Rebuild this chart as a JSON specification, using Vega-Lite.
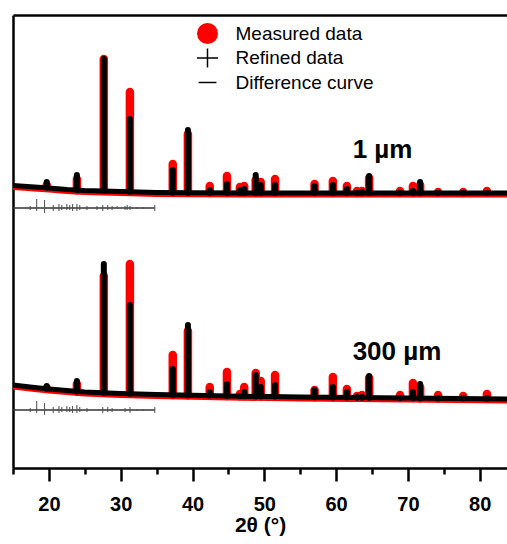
{
  "$schema": "https://vega.github.io/schema/vega-lite/v6.json",
  "width": 494,
  "height": 453,
  "autosize": {"type": "none"},
  "padding": {"left": 13, "top": 15, "right": 0, "bottom": 76},
  "background": "white",
  "config": {"view": {"stroke": null}, "font": "Liberation Sans"},
  "datasets": {
    "baseline": [
      {"pattern": "1 µm", "x": 15, "y": 282.5},
      {"pattern": "1 µm", "x": 17, "y": 281.5},
      {"pattern": "1 µm", "x": 20, "y": 280},
      {"pattern": "1 µm", "x": 22.5, "y": 278.5},
      {"pattern": "1 µm", "x": 25, "y": 277.5},
      {"pattern": "1 µm", "x": 30, "y": 276.5},
      {"pattern": "1 µm", "x": 35, "y": 275.5},
      {"pattern": "1 µm", "x": 40, "y": 275.2},
      {"pattern": "1 µm", "x": 50, "y": 275.1},
      {"pattern": "1 µm", "x": 83.8, "y": 275},
      {"pattern": "300 µm", "x": 15, "y": 83},
      {"pattern": "300 µm", "x": 18, "y": 80.5},
      {"pattern": "300 µm", "x": 20, "y": 79},
      {"pattern": "300 µm", "x": 22.5, "y": 77.5},
      {"pattern": "300 µm", "x": 25, "y": 76},
      {"pattern": "300 µm", "x": 30, "y": 74.5},
      {"pattern": "300 µm", "x": 35, "y": 73.5},
      {"pattern": "300 µm", "x": 45, "y": 72},
      {"pattern": "300 µm", "x": 55, "y": 71},
      {"pattern": "300 µm", "x": 70, "y": 70},
      {"pattern": "300 µm", "x": 83.8, "y": 69}
    ],
    "peaks": [
      {"pattern": "1 µm", "x": 19.7, "base": 280.2, "measured": 283, "refined": 286},
      {"pattern": "1 µm", "x": 23.9, "base": 277.8, "measured": 289, "refined": 293},
      {"pattern": "1 µm", "x": 27.65, "base": 277.2, "measured": 409, "refined": 409},
      {"pattern": "1 µm", "x": 31.28, "base": 276.3, "measured": 376, "refined": 349},
      {"pattern": "1 µm", "x": 37.25, "base": 275.3, "measured": 304, "refined": 298},
      {"pattern": "1 µm", "x": 39.36, "base": 275.2, "measured": 334, "refined": 338},
      {"pattern": "1 µm", "x": 42.4, "base": 275.1, "measured": 282, "refined": 278},
      {"pattern": "1 µm", "x": 44.8, "base": 275.1, "measured": 292, "refined": 284},
      {"pattern": "1 µm", "x": 46.6, "base": 275.1, "measured": 281, "refined": 278},
      {"pattern": "1 µm", "x": 47.2, "base": 275.1, "measured": 282, "refined": 279},
      {"pattern": "1 µm", "x": 48.8, "base": 275.1, "measured": 288, "refined": 293},
      {"pattern": "1 µm", "x": 49.5, "base": 275.1, "measured": 286, "refined": 283},
      {"pattern": "1 µm", "x": 51.5, "base": 275.1, "measured": 289, "refined": 283},
      {"pattern": "1 µm", "x": 57.0, "base": 275, "measured": 284, "refined": 282},
      {"pattern": "1 µm", "x": 59.55, "base": 275, "measured": 287, "refined": 283},
      {"pattern": "1 µm", "x": 61.5, "base": 275, "measured": 282, "refined": 279},
      {"pattern": "1 µm", "x": 62.9, "base": 275, "measured": 277, "refined": 275},
      {"pattern": "1 µm", "x": 63.6, "base": 275, "measured": 277, "refined": 276},
      {"pattern": "1 µm", "x": 64.6, "base": 275, "measured": 290, "refined": 292},
      {"pattern": "1 µm", "x": 68.9, "base": 275, "measured": 277, "refined": 275},
      {"pattern": "1 µm", "x": 70.7, "base": 275, "measured": 282, "refined": 277},
      {"pattern": "1 µm", "x": 71.7, "base": 275, "measured": 283, "refined": 286},
      {"pattern": "1 µm", "x": 74.2, "base": 275, "measured": 276, "refined": 275},
      {"pattern": "1 µm", "x": 77.7, "base": 275, "measured": 276, "refined": 275},
      {"pattern": "1 µm", "x": 81.0, "base": 275, "measured": 277, "refined": 275},
      {"pattern": "300 µm", "x": 19.7, "base": 79.2, "measured": 80, "refined": 82},
      {"pattern": "300 µm", "x": 23.9, "base": 76.5, "measured": 84, "refined": 87},
      {"pattern": "300 µm", "x": 27.65, "base": 75.3, "measured": 192, "refined": 204},
      {"pattern": "300 µm", "x": 31.28, "base": 74.3, "measured": 204, "refined": 163},
      {"pattern": "300 µm", "x": 37.25, "base": 73.1, "measured": 113, "refined": 99},
      {"pattern": "300 µm", "x": 39.36, "base": 72.7, "measured": 137, "refined": 143},
      {"pattern": "300 µm", "x": 42.4, "base": 72.4, "measured": 81, "refined": 76},
      {"pattern": "300 µm", "x": 44.8, "base": 72, "measured": 96, "refined": 84},
      {"pattern": "300 µm", "x": 46.6, "base": 71.8, "measured": 74, "refined": 72},
      {"pattern": "300 µm", "x": 47.2, "base": 71.8, "measured": 81, "refined": 76},
      {"pattern": "300 µm", "x": 48.8, "base": 71.6, "measured": 95, "refined": 93},
      {"pattern": "300 µm", "x": 49.5, "base": 71.6, "measured": 87, "refined": 81},
      {"pattern": "300 µm", "x": 51.5, "base": 71.4, "measured": 93, "refined": 83},
      {"pattern": "300 µm", "x": 57.0, "base": 70.8, "measured": 78, "refined": 78},
      {"pattern": "300 µm", "x": 59.55, "base": 70.6, "measured": 91, "refined": 81},
      {"pattern": "300 µm", "x": 61.5, "base": 70.4, "measured": 79, "refined": 76},
      {"pattern": "300 µm", "x": 62.9, "base": 70.3, "measured": 72, "refined": 71},
      {"pattern": "300 µm", "x": 63.6, "base": 70.3, "measured": 73, "refined": 71},
      {"pattern": "300 µm", "x": 64.6, "base": 70.2, "measured": 90, "refined": 92},
      {"pattern": "300 µm", "x": 68.9, "base": 70, "measured": 73, "refined": 70},
      {"pattern": "300 µm", "x": 70.7, "base": 69.9, "measured": 85, "refined": 76},
      {"pattern": "300 µm", "x": 71.7, "base": 69.8, "measured": 81, "refined": 84},
      {"pattern": "300 µm", "x": 74.2, "base": 69.6, "measured": 73, "refined": 70},
      {"pattern": "300 µm", "x": 77.7, "base": 69.4, "measured": 72, "refined": 70},
      {"pattern": "300 µm", "x": 81.0, "base": 69.2, "measured": 74, "refined": 70}
    ],
    "diffline": [
      {"pattern": "1 µm", "x": 15, "y": 260},
      {"pattern": "1 µm", "x": 34.75, "y": 260},
      {"pattern": "300 µm", "x": 15, "y": 58},
      {"pattern": "300 µm", "x": 34.75, "y": 58}
    ],
    "diffspikes": [
      {"pattern": "1 µm", "x": 17.4, "lo": 258, "hi": 262},
      {"pattern": "1 µm", "x": 18.3, "lo": 257, "hi": 269},
      {"pattern": "1 µm", "x": 19.4, "lo": 255, "hi": 268},
      {"pattern": "1 µm", "x": 20.6, "lo": 257, "hi": 263},
      {"pattern": "1 µm", "x": 21.4, "lo": 257, "hi": 264},
      {"pattern": "1 µm", "x": 21.8, "lo": 258, "hi": 263},
      {"pattern": "1 µm", "x": 22.5, "lo": 258, "hi": 264},
      {"pattern": "1 µm", "x": 22.9, "lo": 258, "hi": 263},
      {"pattern": "1 µm", "x": 23.3, "lo": 257, "hi": 264},
      {"pattern": "1 µm", "x": 23.9, "lo": 257, "hi": 264},
      {"pattern": "1 µm", "x": 24.3, "lo": 258, "hi": 263},
      {"pattern": "1 µm", "x": 25.3, "lo": 258, "hi": 262},
      {"pattern": "1 µm", "x": 26.7, "lo": 258, "hi": 262},
      {"pattern": "1 µm", "x": 27.5, "lo": 257, "hi": 263},
      {"pattern": "1 µm", "x": 28.2, "lo": 258, "hi": 263},
      {"pattern": "1 µm", "x": 28.8, "lo": 258, "hi": 262},
      {"pattern": "1 µm", "x": 29.5, "lo": 259, "hi": 262},
      {"pattern": "1 µm", "x": 30.6, "lo": 258, "hi": 262},
      {"pattern": "1 µm", "x": 30.9, "lo": 258, "hi": 263},
      {"pattern": "1 µm", "x": 31.3, "lo": 258, "hi": 262},
      {"pattern": "1 µm", "x": 32.3, "lo": 259, "hi": 261},
      {"pattern": "1 µm", "x": 33.1, "lo": 259, "hi": 261},
      {"pattern": "1 µm", "x": 34.75, "lo": 257, "hi": 263},
      {"pattern": "300 µm", "x": 17.4, "lo": 56, "hi": 60},
      {"pattern": "300 µm", "x": 18.3, "lo": 55, "hi": 67},
      {"pattern": "300 µm", "x": 19.4, "lo": 53, "hi": 65},
      {"pattern": "300 µm", "x": 20.6, "lo": 55, "hi": 61},
      {"pattern": "300 µm", "x": 21.4, "lo": 55, "hi": 62},
      {"pattern": "300 µm", "x": 21.8, "lo": 56, "hi": 61},
      {"pattern": "300 µm", "x": 22.5, "lo": 56, "hi": 62},
      {"pattern": "300 µm", "x": 22.9, "lo": 56, "hi": 61},
      {"pattern": "300 µm", "x": 23.3, "lo": 55, "hi": 62},
      {"pattern": "300 µm", "x": 23.9, "lo": 55, "hi": 63},
      {"pattern": "300 µm", "x": 24.3, "lo": 56, "hi": 61},
      {"pattern": "300 µm", "x": 25.3, "lo": 56, "hi": 60},
      {"pattern": "300 µm", "x": 27.5, "lo": 55, "hi": 61},
      {"pattern": "300 µm", "x": 28.2, "lo": 56, "hi": 61},
      {"pattern": "300 µm", "x": 28.8, "lo": 56, "hi": 60},
      {"pattern": "300 µm", "x": 30.6, "lo": 56, "hi": 60},
      {"pattern": "300 µm", "x": 31.3, "lo": 55, "hi": 61},
      {"pattern": "300 µm", "x": 32.3, "lo": 57, "hi": 59},
      {"pattern": "300 µm", "x": 33.1, "lo": 57, "hi": 59},
      {"pattern": "300 µm", "x": 34.75, "lo": 55, "hi": 61}
    ],
    "labels": [
      {"label": "1 µm", "x": 62.3, "y": 310},
      {"label": "300 µm", "x": 62.3, "y": 108}
    ]
  },
  "encoding": {
    "x": {"field": "x", "type": "quantitative", "scale": {"domain": [15, 83.8], "nice": false, "zero": false}, "axis": null}
  },
  "layer": [
    {
      "data": {"name": "baseline"},
      "mark": {"type": "line", "color": "#ff0000", "strokeWidth": 6, "yOffset": 1.5, "strokeJoin": "round", "clip": true},
      "encoding": {
        "x": {
          "field": "x", "type": "quantitative",
          "scale": {"domain": [15, 83.8], "nice": false, "zero": false},
          "axis": {
            "orient": "bottom",
            "values": [15, 20, 25, 30, 35, 40, 45, 50, 55, 60, 65, 70, 75, 80],
            "labelExpr": "datum.value % 10 === 0 ? datum.label : ''",
            "tickSize": {"condition": {"test": "datum.value % 10 === 0", "value": 13}, "value": 6},
            "tickWidth": 2.5,
            "tickColor": "#000000",
            "domainColor": "#000000",
            "domainWidth": 2.5,
            "grid": false,
            "labelFont": "Liberation Sans",
            "labelFontWeight": "bold",
            "labelFontSize": 20,
            "labelColor": "#000000",
            "labelPadding": 13,
            "labelFlush": false,
            "labelOverlap": false,
            "title": "2θ (°)",
            "titleFont": "Liberation Sans",
            "titleFontWeight": "bold",
            "titleFontSize": 21,
            "titleColor": "#000000",
            "titlePadding": 0
          }
        },
        "y": {
          "field": "y", "type": "quantitative",
          "scale": {"domain": [0, 453], "nice": false, "zero": false},
          "axis": {"orient": "left", "labels": false, "ticks": false, "grid": false, "title": null, "domainColor": "#000000", "domainWidth": 2.5}
        },
        "detail": {"field": "pattern"}
      }
    },
    {
      "data": {"name": "peaks"},
      "mark": {"type": "rule", "color": "#ff0000", "strokeWidth": 8.5, "strokeCap": "round"},
      "encoding": {
        "y": {"field": "base", "type": "quantitative", "scale": {"domain": [0, 453], "nice": false, "zero": false}, "axis": null},
        "y2": {"field": "measured"}
      }
    },
    {
      "data": {"name": "baseline"},
      "mark": {"type": "line", "color": "#000000", "strokeWidth": 5, "strokeJoin": "round", "clip": true},
      "encoding": {
        "x": {
          "field": "x", "type": "quantitative",
          "scale": {"domain": [15, 83.8], "nice": false, "zero": false},
          "axis": {"orient": "top", "labels": false, "ticks": false, "grid": false, "title": null, "domainColor": "#000000", "domainWidth": 2.5}
        },
        "y": {"field": "y", "type": "quantitative", "scale": {"domain": [0, 453], "nice": false, "zero": false}, "axis": null},
        "detail": {"field": "pattern"}
      }
    },
    {
      "data": {"name": "peaks"},
      "mark": {"type": "rule", "color": "#000000", "strokeWidth": 6, "strokeCap": "round"},
      "encoding": {
        "y": {"field": "base", "type": "quantitative", "scale": {"domain": [0, 453], "nice": false, "zero": false}, "axis": null},
        "y2": {"field": "refined"}
      }
    },
    {
      "data": {"name": "diffline"},
      "mark": {"type": "line", "color": "#333333", "strokeWidth": 1.3},
      "encoding": {
        "y": {"field": "y", "type": "quantitative", "scale": {"domain": [0, 453], "nice": false, "zero": false}, "axis": null},
        "detail": {"field": "pattern"}
      }
    },
    {
      "data": {"name": "diffspikes"},
      "mark": {"type": "rule", "color": "#4d4d4d", "strokeWidth": 1},
      "encoding": {
        "y": {"field": "lo", "type": "quantitative", "scale": {"domain": [0, 453], "nice": false, "zero": false}, "axis": null},
        "y2": {"field": "hi"}
      }
    },
    {
      "data": {"name": "peaks"},
      "transform": [{"fold": ["measured", "refined"], "as": ["series", "value"]}],
      "mark": {"type": "point", "filled": true, "opacity": 0, "size": 40},
      "encoding": {
        "y": {"field": "value", "type": "quantitative", "scale": {"domain": [0, 453], "nice": false, "zero": false}, "axis": null},
        "color": {
          "field": "series", "type": "nominal",
          "scale": {"domain": ["measured", "refined", "difference"], "range": ["#ff0000", "#000000", "#000000"]},
          "legend": {
            "orient": "none", "legendX": 184, "legendY": 8, "title": null, "padding": 0,
            "symbolSize": 441, "symbolOpacity": 1, "symbolStrokeWidth": 0,
            "labelFont": "Liberation Sans", "labelFontSize": 19, "labelColor": "#000000",
            "labelOffset": 17.5, "rowPadding": 3.5,
            "labelExpr": "{'measured': 'Measured data', 'refined': 'Refined data', 'difference': 'Difference curve'}[datum.label]"
          }
        },
        "shape": {
          "field": "series", "type": "nominal",
          "scale": {"domain": ["measured", "refined", "difference"], "range": ["circle", "M-1,-0.07H1V0.07H-1Z M-0.07,-0.9H0.07V0.9H-0.07Z", "M-0.85,-0.07H0.85V0.07H-0.85Z"]},
          "legend": {
            "orient": "none", "legendX": 184, "legendY": 8, "title": null, "padding": 0,
            "symbolSize": 441, "symbolOpacity": 1, "symbolStrokeWidth": 0,
            "labelFont": "Liberation Sans", "labelFontSize": 19, "labelColor": "#000000",
            "labelOffset": 17.5, "rowPadding": 3.5,
            "labelExpr": "{'measured': 'Measured data', 'refined': 'Refined data', 'difference': 'Difference curve'}[datum.label]"
          }
        }
      }
    },
    {
      "data": {"name": "labels"},
      "mark": {"type": "text", "align": "left", "baseline": "alphabetic", "font": "Liberation Sans", "fontWeight": "bold", "fontSize": 26, "color": "#000000"},
      "encoding": {
        "y": {"field": "y", "type": "quantitative", "scale": {"domain": [0, 453], "nice": false, "zero": false}, "axis": null},
        "text": {"field": "label"}
      }
    }
  ],
  "resolve": {"axis": {"x": "independent", "y": "independent"}}
}
